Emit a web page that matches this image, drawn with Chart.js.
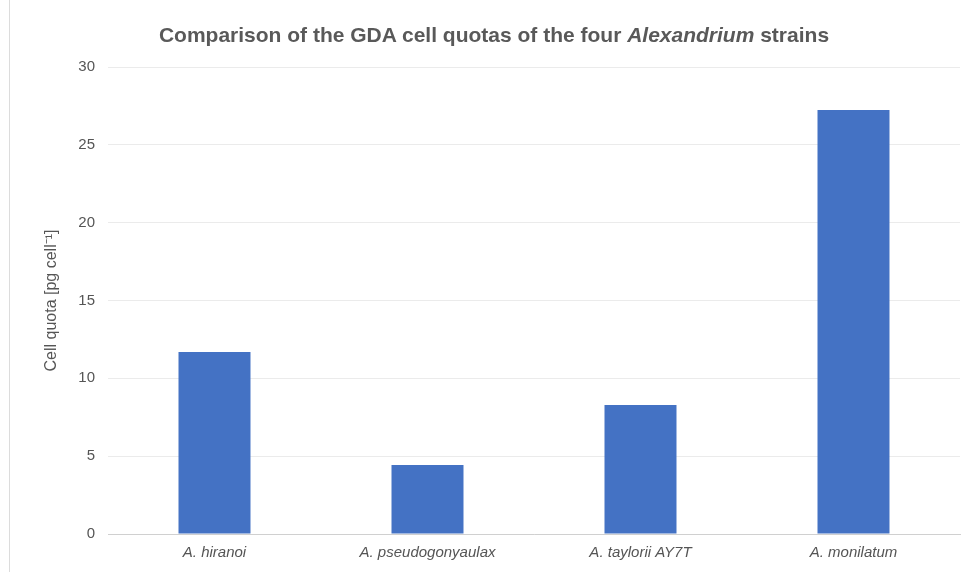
<!DOCTYPE html>
<html lang="en">
<head>
    <meta charset="UTF-8">
    <title>GDA cell quotas</title>
    <style>
        body {
            margin: 0;
            padding: 0;
            background-color: #fff;
            font-family: "Liberation Sans", Arial, sans-serif;
        }

        .wrap {
            position: relative;
            width: 964px;
            height: 572px;
        }

        .edge {
            position: absolute;
            left: 9px;
            top: 0;
            width: 1px;
            height: 572px;
            background-color: #dcdcdc;
        }

        .title {
            position: absolute;
            left: 0;
            top: 22px;
            width: 988px;
            text-align: center;
            font-size: 21px;
            font-weight: bold;
            color: #595959;
            line-height: 26px;
        }
    </style>
</head>
<body>
    <div class="wrap">
        <div class="edge"></div>
        <div class="title">Comparison of the GDA cell quotas of the four <i>Alexandrium</i> strains</div>
        <canvas id="quotaChart" width="964" height="572"></canvas>
    </div>
    <script src="https://cdn.jsdelivr.net/npm/chart.js"></script>
    <script>
        // values
        const strains = ['A. hiranoi', 'A. pseudogonyaulax', 'A. taylorii AY7T', 'A. monilatum'];
        const cellQuota = [11.69, 4.43, 8.29, 27.24];
        const yTicks = [0, 5, 10, 15, 20, 25, 30];

        const ctx = document.getElementById('quotaChart').getContext('2d');

        new Chart(ctx, {
            type: 'bar',
            data: {
                labels: strains,
                datasets: [{
                    label: 'Cell quota',
                    data: cellQuota,
                    backgroundColor: '#4472C4',
                    borderWidth: 0,
                    barPercentage: 0.338,
                    categoryPercentage: 1
                }]
            },
            options: {
                responsive: false,
                animation: false,
                layout: {
                    padding: { top: 67, right: 4, left: 42, bottom: 0 }
                },
                plugins: {
                    legend: { display: false },
                    tooltip: { enabled: false }
                },
                scales: {
                    x: {
                        grid: { display: false, drawTicks: false },
                        border: { display: true, color: '#d0d0d0', width: 1 },
                        ticks: {
                            color: '#555',
                            padding: 10,
                            maxRotation: 0,
                            font: { family: '"Liberation Sans", Arial, sans-serif', size: 15, style: 'italic' }
                        },
                        afterFit: (scale) => { scale.height = 38; }
                    },
                    y: {
                        min: 0,
                        max: 30,
                        afterBuildTicks: (scale) => {
                            scale.ticks = yTicks.map(v => ({ value: v }));
                        },
                        grid: { color: '#ebebeb', drawTicks: false },
                        border: { display: false },
                        ticks: {
                            color: '#555',
                            padding: 13,
                            font: { family: '"Liberation Sans", Arial, sans-serif', size: 15 }
                        },
                        title: {
                            display: true,
                            text: 'Cell quota [pg cell\u207B\u00B9]',
                            color: '#555',
                            padding: 0,
                            font: { family: '"Liberation Sans", Arial, sans-serif', size: 16 }
                        },
                        afterFit: (scale) => { scale.width = 66; }
                    }
                }
            }
        });
    </script>
</body>
</html>
